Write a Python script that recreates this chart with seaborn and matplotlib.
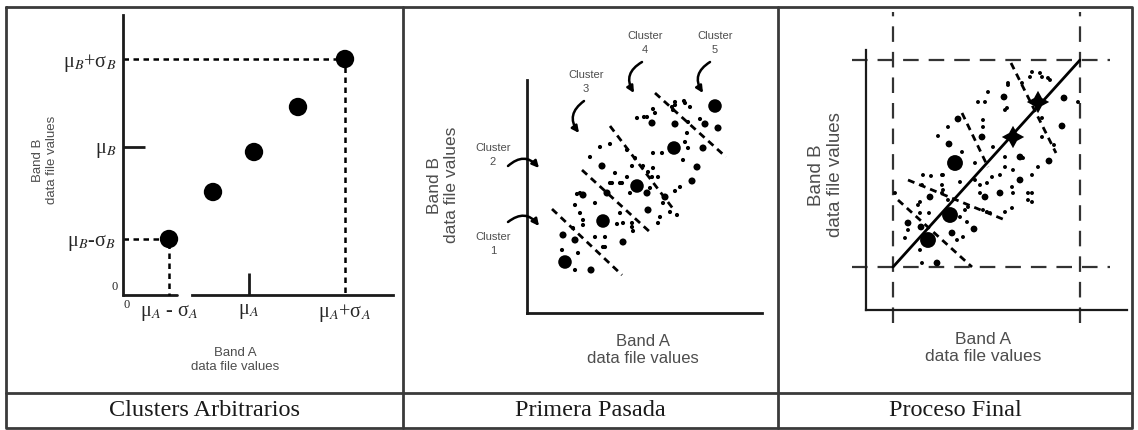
import numpy as np
import pandas as pd
import matplotlib
matplotlib.use("Agg")
from matplotlib import pyplot as plt
import seaborn as sns

sns.set_style("white")
plt.rcParams["font.family"] = ["Liberation Sans", "DejaVu Sans"]
plt.rcParams["mathtext.fontset"] = "stix"

# --- panel 1: arbitrary cluster means along the diagonal
arb_a = [46, 90, 131, 175, 222]
arb_b = [56, 103, 143, 188, 236]
mu_a = 126
mu_b = 148
sigma_a_ticks = [46, 222]
sigma_b_ticks = [56, 236]
mu_a_label = "μ$_A$"
mu_b_label = "μ$_B$"
sigma_a_labels = ["μ$_A$ - σ$_A$", "μ$_A$+σ$_A$"]
sigma_b_labels = ["μ$_B$-σ$_B$", "μ$_B$+σ$_B$"]

# --- panel 2: first pass
pp_big_x = [38, 76, 110, 147, 188]
pp_big_y = [51, 92, 127, 165, 207]
pp_mid_x = [125, 148, 178, 191, 176, 170, 165, 75, 121, 138, 56, 80, 96, 48, 36, 64, 120]
pp_mid_y = [190, 189, 189, 185, 165, 146, 132, 147, 103, 116, 118, 120, 71, 73, 78, 43, 120]
pp_small_x = [148, 157, 163, 145, 126, 110, 117, 161, 173, 161, 83, 73, 63, 100, 108, 105, 126, 135,
              116, 121, 126, 100, 93, 53, 68, 88, 85, 105, 106, 90, 93, 53, 56, 46, 35, 51, 48, 78,
              78, 143, 133, 123, 131, 128, 120, 148, 158, 146, 160, 158, 156, 131, 150, 153, 148, 125,
              136, 50, 48, 83, 95, 103, 96, 105, 68, 76, 56]
pp_small_y = [211, 212, 206, 206, 204, 195, 196, 191, 194, 165, 169, 166, 156, 163, 155, 147, 160, 160,
              147, 141, 145, 136, 130, 120, 110, 140, 130, 86, 82, 89, 100, 100, 93, 85, 63, 60, 43, 76,
              66, 101, 96, 125, 136, 200, 196, 208, 210, 203, 180, 171, 153, 90, 98, 126, 122, 136,
              110, 119, 108, 130, 130, 120, 90, 90, 76, 66, 88]
pp_bnd_x0 = [25, 55, 83, 128]
pp_bnd_y0 = [104, 143, 187, 220]
pp_bnd_x1 = [95, 124, 147, 199]
pp_bnd_y1 = [38, 80, 103, 156]
cluster_labels = ["Cluster\n1", "Cluster\n2", "Cluster\n3", "Cluster\n4", "Cluster\n5"]
lab_x = [-34, -34, 59, 118, 188]
lab_y = [69, 158, 231, 270, 270]
arr_x0 = [-19, -19, 57, 115, 183]
arr_y0 = [91, 147, 212, 251, 251]
arr_x1 = [12, 12, 52, 107, 176]
arr_y1 = [87, 145, 180, 220, 220]
arr_rad = [-0.5, -0.5, 0.5, 0.5, 0.5]

# --- panel 3: final result
a_range = [27, 214]
b_range = [43, 250]
fp_big_x = [62, 84, 89]
fp_big_y = [70, 95, 147]
fp_star_x = [147, 172]
fp_star_y = [173, 208]
fp_mid_x = [138, 198, 196, 183, 92, 83, 116, 154, 154, 134, 119, 108, 64, 42, 55, 71, 86]
fp_mid_y = [213, 212, 184, 149, 191, 166, 173, 153, 130, 117, 113, 81, 113, 87, 83, 47, 77]
fp_small_x = [212, 188, 72, 117, 112, 122, 139, 142, 166, 176, 184, 166, 139, 139, 127, 109, 109, 94,
              76, 65, 56, 42, 56, 94, 102, 82, 77, 29, 52, 63, 82, 96, 126, 146, 162, 57, 77, 76,
              76, 54, 54, 39, 54, 114, 114, 99, 101, 91, 97, 121, 182, 142, 141, 119, 176, 176,
              156, 164, 174, 117, 157, 172, 166, 147, 134, 121, 147, 162, 166, 146, 139, 124, 117]
fp_small_y = [208, 165, 174, 183, 208, 218, 200, 227, 238, 233, 230, 117, 153, 143, 163, 147, 130, 128,
              135, 134, 125, 80, 47, 93, 103, 110, 120, 117, 105, 97, 183, 158, 133, 123, 110, 135, 135, 125,
              117, 108, 97, 72, 60, 125, 117, 100, 88, 70, 73, 98, 232, 225, 202, 208, 192, 173,
              227, 233, 237, 190, 152, 143, 135, 140, 135, 127, 117, 117, 108, 102, 98, 97, 100]
fp_bnd_x0 = [32, 42, 96, 145]
fp_bnd_y0 = [110, 130, 197, 247]
fp_bnd_x1 = [106, 139, 122, 190]
fp_bnd_y1 = [43, 90, 143, 157]

titles = ["Clusters Arbitrarios", "Primera Pasada", "Proceso Final"]

W, H = 1138, 430
fig = plt.figure(figsize=(W / 100, H / 100), dpi=100)
fig.patch.set_facecolor("white")

label_col = "#4d4d4d"

def add_panel(x0, y_bottom, w, h):
    ax = fig.add_axes([x0 / W, 1 - y_bottom / H, w / W, h / H])
    ax.set_xlim(0, w)
    ax.set_ylim(0, h)
    ax.patch.set_alpha(0)
    for s in ["top", "right"]:
        ax.spines[s].set_visible(False)
    for s in ["left", "bottom"]:
        ax.spines[s].set_color("#1a1a1a")
        ax.spines[s].set_linewidth(2)
    ax.set_xticks([])
    ax.set_yticks([])
    return ax

def dots(ax, x, y, s, marker="o"):
    sns.scatterplot(x=x, y=y, s=s, color="black", edgecolor="none", marker=marker,
                    ax=ax, legend=False, zorder=3, clip_on=False)

# background frame of the table
bg = fig.add_axes([0, 0, 1, 1], zorder=-5)
bg.set_xlim(0, W)
bg.set_ylim(H, 0)
bg.axis("off")
frame_kw = dict(color="#3a3a3a", lw=2)
bg.plot([6, 1132, 1132, 6, 6], [7, 7, 428, 428, 7], **frame_kw)
bg.plot([403, 403], [7, 428], **frame_kw)
bg.plot([778, 778], [7, 428], **frame_kw)
bg.plot([6, 1132], [393, 393], **frame_kw)
for cx, t in zip([205, 590, 955], titles):
    bg.text(cx, 411, t, ha="center", va="center", fontsize=17.5,
            family="Liberation Serif", color="#1a1a1a")

# ---------------- panel 1
ax1 = add_panel(123, 295, 270, 280)
ax1.spines["bottom"].set_bounds(69, 270)
ax1.plot([0, 54], [0, 0], color="#1a1a1a", lw=2, clip_on=False)
tick_font = dict(family="Liberation Serif", fontsize=14.5)
# mean ticks are the major ones (drawn inward), the +/- sigma labels are minor ticks
ax1.set_xticks([mu_a], [mu_a_label], **tick_font)
ax1.set_yticks([mu_b], [mu_b_label], **tick_font)
ax1.set_xticks(sigma_a_ticks, sigma_a_labels, minor=True, **tick_font)
ax1.set_yticks(sigma_b_ticks, sigma_b_labels, minor=True, **tick_font)
ax1.tick_params(which="major", direction="in", length=16, width=2, color="#1a1a1a",
                left=True, bottom=True, pad=5)
ax1.tick_params(which="minor", length=0, pad=5, left=True, bottom=True)
dash1 = dict(color="black", lw=1.8, ls=(0, (2.2, 1.8)), clip_on=False)
ax1.plot([0, arb_a[-1], arb_a[-1]], [arb_b[-1], arb_b[-1], 0], **dash1)
ax1.plot([0, arb_a[0], arb_a[0]], [arb_b[0], arb_b[0], 0], **dash1)
dots(ax1, arb_a, arb_b, 175)
ax1.text(-8, 8, "0", ha="center", va="center", fontsize=9, family="Liberation Serif")
ax1.text(4, -10, "0", ha="center", va="center", fontsize=9, family="Liberation Serif")
ax1.text(-78, 135, "Band B\ndata file values", rotation=90, ha="center", va="center",
         fontsize=9.5, color=label_col)
ax1.text(112, -65, "Band A\ndata file values", ha="center", va="center",
         fontsize=9.5, color=label_col)

# ---------------- panel 2
ax2 = add_panel(527, 313, 235, 233)
dash2 = dict(color="black", lw=2, ls=(0, (2.5, 1.8)))
for x0, y0, x1, y1 in zip(pp_bnd_x0, pp_bnd_y0, pp_bnd_x1, pp_bnd_y1):
    ax2.plot([x0, x1], [y0, y1], **dash2)
dots(ax2, pp_small_x, pp_small_y, 9)
dots(ax2, pp_mid_x, pp_mid_y, 26)
dots(ax2, pp_big_x, pp_big_y, 95)
for t, lx, ly, x0, y0, x1, y1, r in zip(cluster_labels, lab_x, lab_y, arr_x0, arr_y0,
                                        arr_x1, arr_y1, arr_rad):
    ax2.text(lx, ly, t, ha="center", va="center", fontsize=8, color=label_col, linespacing=1.4)
    ax2.annotate("", xy=(x1, y1), xytext=(x0, y0), annotation_clip=False,
                 arrowprops=dict(arrowstyle="-|>", connectionstyle=f"arc3,rad={r}",
                                 color="black", lw=1.8, mutation_scale=10,
                                 shrinkA=0, shrinkB=0))
ax2.text(-84, 128, "Band B\ndata file values", rotation=90, ha="center", va="center",
         fontsize=12.5, color=label_col)
ax2.text(116, -37, "Band A\ndata file values", ha="center", va="center",
         fontsize=12, color=label_col)

# ---------------- panel 3
ax3 = add_panel(866, 310, 261, 260)
ax3.spines["left"].set_linewidth(1.6)
ax3.spines["bottom"].set_linewidth(1.6)
dash3 = dict(color="#333333", lw=1.6, ls=(0, (7, 4.5)), clip_on=False)
for xv in a_range:
    ax3.axvline(xv, ymin=-0.05, ymax=1.146, **dash3)
for yv in b_range:
    ax3.axhline(yv, xmin=-0.054, xmax=0.935, **dash3)
ax3.plot(a_range, b_range, color="black", lw=2)
for x0, y0, x1, y1 in zip(fp_bnd_x0, fp_bnd_y0, fp_bnd_x1, fp_bnd_y1):
    ax3.plot([x0, x1], [y0, y1], **dash2)
dots(ax3, fp_small_x, fp_small_y, 8)
dots(ax3, fp_mid_x, fp_mid_y, 24)
dots(ax3, fp_big_x, fp_big_y, 130)
dots(ax3, fp_star_x, fp_star_y, 260, marker=(4, 1, 0))
ax3.text(-40, 135, "Band B\ndata file values", rotation=90, ha="center", va="center",
         fontsize=13.5, color=label_col)
ax3.text(117, -38, "Band A\ndata file values", ha="center", va="center",
         fontsize=12.5, color=label_col)

fig.savefig("out.png", dpi=100)
plt.close(fig)
